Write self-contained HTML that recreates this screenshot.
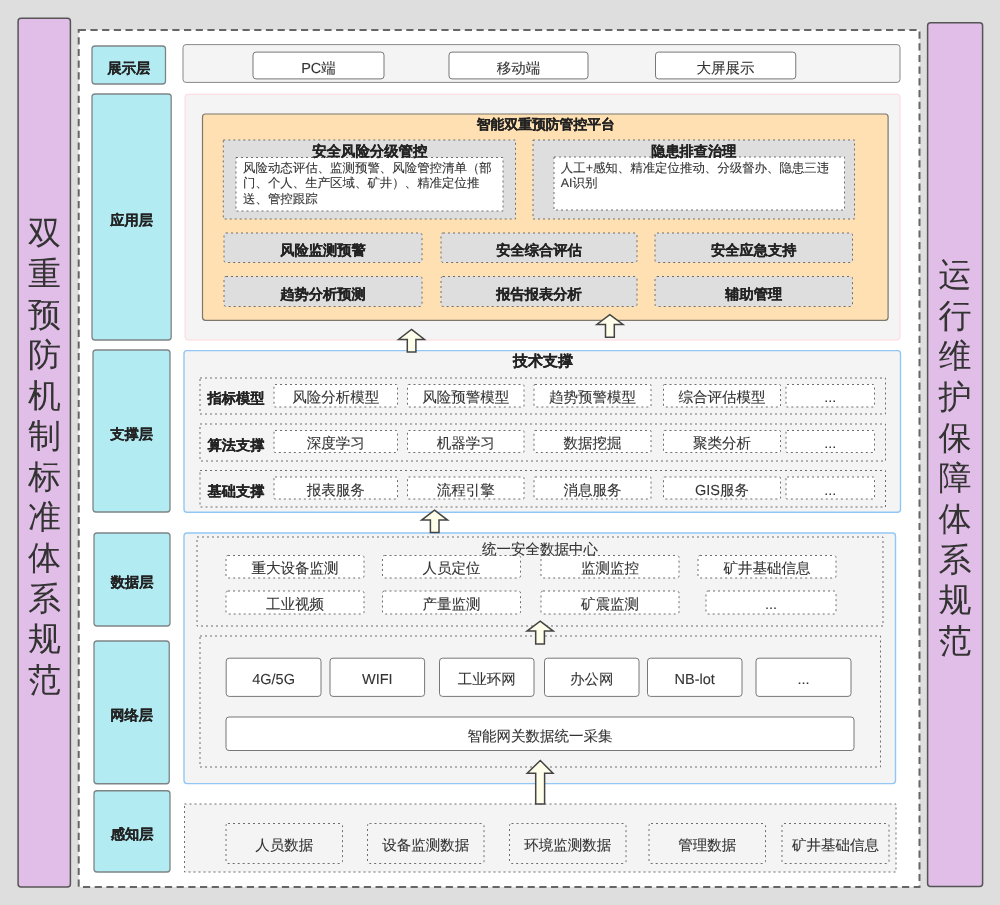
<!DOCTYPE html>
<html><head><meta charset="utf-8"><title>双重预防机制架构</title>
<style>html,body{margin:0;padding:0;background:#dedede;width:1000px;height:905px;overflow:hidden}</style>
</head><body>
<svg width="1000" height="905" viewBox="0 0 1000 905" style="display:block;font-family:'Liberation Sans',sans-serif;will-change:transform" text-rendering="geometricPrecision">
<rect x="18.10" y="18.25" width="52.30" height="868.65" rx="3" fill="#e1bee7" stroke="#555" stroke-width="1.5"/>
<rect x="927.60" y="22.75" width="55.00" height="863.75" rx="3" fill="#e1bee7" stroke="#555" stroke-width="1.5"/>
<rect x="78.70" y="29.90" width="840.80" height="857.10" rx="0" fill="#fff" stroke="#666" stroke-width="2" stroke-dasharray="7.2 4.5"/>
<rect x="92.00" y="46.00" width="73.50" height="38.00" rx="3" fill="#b2ebf2" stroke="#7d8486" stroke-width="1.3"/>
<rect x="92.00" y="94.00" width="79.20" height="246.00" rx="3" fill="#b2ebf2" stroke="#7d8486" stroke-width="1.3"/>
<rect x="93.00" y="350.00" width="77.00" height="162.00" rx="3" fill="#b2ebf2" stroke="#7d8486" stroke-width="1.3"/>
<rect x="94.00" y="533.00" width="76.00" height="93.00" rx="3" fill="#b2ebf2" stroke="#7d8486" stroke-width="1.3"/>
<rect x="94.00" y="641.00" width="75.25" height="142.75" rx="3" fill="#b2ebf2" stroke="#7d8486" stroke-width="1.3"/>
<rect x="94.00" y="790.75" width="76.00" height="81.25" rx="3" fill="#b2ebf2" stroke="#7d8486" stroke-width="1.3"/>
<rect x="183.00" y="44.60" width="717.00" height="37.80" rx="3" fill="#f4f4f4" stroke="#888" stroke-width="1"/>
<rect x="253.00" y="52.10" width="131.00" height="26.80" rx="3" fill="#fff" stroke="#777" stroke-width="1"/>
<rect x="449.00" y="52.10" width="139.00" height="26.80" rx="3" fill="#fff" stroke="#777" stroke-width="1"/>
<rect x="655.50" y="52.10" width="140.25" height="26.80" rx="3" fill="#fff" stroke="#777" stroke-width="1"/>
<rect x="185.00" y="94.20" width="715.00" height="245.80" rx="3" fill="#f4f4f4" stroke="#ffd8dd" stroke-width="1"/>
<rect x="202.50" y="114.00" width="685.60" height="206.30" rx="3" fill="#ffe0b2" stroke="#7d776e" stroke-width="1.2"/>
<rect x="223.30" y="140.00" width="292.20" height="79.00" rx="0" fill="#dedede" stroke="#6e6e6e" stroke-width="1" stroke-dasharray="2 3"/>
<rect x="236.00" y="157.50" width="267.00" height="53.50" rx="0" fill="#fff" stroke="#6e6e6e" stroke-width="1" stroke-dasharray="2 3"/>
<rect x="533.00" y="140.00" width="321.50" height="79.00" rx="0" fill="#dedede" stroke="#6e6e6e" stroke-width="1" stroke-dasharray="2 3"/>
<rect x="554.00" y="157.00" width="290.50" height="53.00" rx="0" fill="#fff" stroke="#6e6e6e" stroke-width="1" stroke-dasharray="2 3"/>
<rect x="224.00" y="233.00" width="198.00" height="29.50" rx="2" fill="#dedede" stroke="#6e6e6e" stroke-width="1" stroke-dasharray="2 3"/>
<rect x="441.00" y="233.00" width="196.00" height="29.50" rx="2" fill="#dedede" stroke="#6e6e6e" stroke-width="1" stroke-dasharray="2 3"/>
<rect x="655.00" y="233.00" width="197.50" height="29.50" rx="2" fill="#dedede" stroke="#6e6e6e" stroke-width="1" stroke-dasharray="2 3"/>
<rect x="224.00" y="276.50" width="198.00" height="30.00" rx="2" fill="#dedede" stroke="#6e6e6e" stroke-width="1" stroke-dasharray="2 3"/>
<rect x="441.00" y="276.50" width="196.00" height="30.00" rx="2" fill="#dedede" stroke="#6e6e6e" stroke-width="1" stroke-dasharray="2 3"/>
<rect x="655.00" y="276.50" width="197.50" height="30.00" rx="2" fill="#dedede" stroke="#6e6e6e" stroke-width="1" stroke-dasharray="2 3"/>
<rect x="184.00" y="350.60" width="716.50" height="161.60" rx="3" fill="#f4f4f4" stroke="#92c7f5" stroke-width="1.4"/>
<rect x="200.00" y="378.00" width="685.50" height="36.00" rx="0" fill="none" stroke="#6e6e6e" stroke-width="1" stroke-dasharray="2 3"/>
<rect x="274.00" y="384.50" width="123.50" height="22.50" rx="1" fill="#fff" stroke="#6e6e6e" stroke-width="1" stroke-dasharray="2 3"/>
<rect x="407.50" y="384.50" width="116.50" height="22.50" rx="1" fill="#fff" stroke="#6e6e6e" stroke-width="1" stroke-dasharray="2 3"/>
<rect x="534.00" y="384.50" width="117.00" height="22.50" rx="1" fill="#fff" stroke="#6e6e6e" stroke-width="1" stroke-dasharray="2 3"/>
<rect x="663.50" y="384.50" width="117.00" height="22.50" rx="1" fill="#fff" stroke="#6e6e6e" stroke-width="1" stroke-dasharray="2 3"/>
<rect x="786.00" y="384.50" width="88.50" height="22.50" rx="1" fill="#fff" stroke="#6e6e6e" stroke-width="1" stroke-dasharray="2 3"/>
<rect x="200.00" y="424.00" width="685.50" height="37.00" rx="0" fill="none" stroke="#6e6e6e" stroke-width="1" stroke-dasharray="2 3"/>
<rect x="274.00" y="430.50" width="123.50" height="22.00" rx="1" fill="#fff" stroke="#6e6e6e" stroke-width="1" stroke-dasharray="2 3"/>
<rect x="407.50" y="430.50" width="116.50" height="22.00" rx="1" fill="#fff" stroke="#6e6e6e" stroke-width="1" stroke-dasharray="2 3"/>
<rect x="534.00" y="430.50" width="117.00" height="22.00" rx="1" fill="#fff" stroke="#6e6e6e" stroke-width="1" stroke-dasharray="2 3"/>
<rect x="663.50" y="430.50" width="117.00" height="22.00" rx="1" fill="#fff" stroke="#6e6e6e" stroke-width="1" stroke-dasharray="2 3"/>
<rect x="786.00" y="430.50" width="88.50" height="22.00" rx="1" fill="#fff" stroke="#6e6e6e" stroke-width="1" stroke-dasharray="2 3"/>
<rect x="200.00" y="470.50" width="685.50" height="36.50" rx="0" fill="none" stroke="#6e6e6e" stroke-width="1" stroke-dasharray="2 3"/>
<rect x="274.00" y="477.00" width="123.50" height="22.00" rx="1" fill="#fff" stroke="#6e6e6e" stroke-width="1" stroke-dasharray="2 3"/>
<rect x="407.50" y="477.00" width="116.50" height="22.00" rx="1" fill="#fff" stroke="#6e6e6e" stroke-width="1" stroke-dasharray="2 3"/>
<rect x="534.00" y="477.00" width="117.00" height="22.00" rx="1" fill="#fff" stroke="#6e6e6e" stroke-width="1" stroke-dasharray="2 3"/>
<rect x="663.50" y="477.00" width="117.00" height="22.00" rx="1" fill="#fff" stroke="#6e6e6e" stroke-width="1" stroke-dasharray="2 3"/>
<rect x="786.00" y="477.00" width="88.50" height="22.00" rx="1" fill="#fff" stroke="#6e6e6e" stroke-width="1" stroke-dasharray="2 3"/>
<rect x="184.00" y="533.00" width="711.50" height="250.60" rx="3" fill="#f4f4f4" stroke="#92c7f5" stroke-width="1.4"/>
<rect x="197.00" y="537.00" width="686.00" height="89.00" rx="0" fill="none" stroke="#6e6e6e" stroke-width="1" stroke-dasharray="2 3"/>
<rect x="226.00" y="555.50" width="138.00" height="22.50" rx="2" fill="#fff" stroke="#6e6e6e" stroke-width="1" stroke-dasharray="2 3"/>
<rect x="382.50" y="555.50" width="138.00" height="22.50" rx="2" fill="#fff" stroke="#6e6e6e" stroke-width="1" stroke-dasharray="2 3"/>
<rect x="541.00" y="555.50" width="138.00" height="22.50" rx="2" fill="#fff" stroke="#6e6e6e" stroke-width="1" stroke-dasharray="2 3"/>
<rect x="698.00" y="555.50" width="138.00" height="22.50" rx="2" fill="#fff" stroke="#6e6e6e" stroke-width="1" stroke-dasharray="2 3"/>
<rect x="226.00" y="591.00" width="138.00" height="23.00" rx="2" fill="#fff" stroke="#6e6e6e" stroke-width="1" stroke-dasharray="2 3"/>
<rect x="382.50" y="591.00" width="138.00" height="23.00" rx="2" fill="#fff" stroke="#6e6e6e" stroke-width="1" stroke-dasharray="2 3"/>
<rect x="541.00" y="591.00" width="138.00" height="23.00" rx="2" fill="#fff" stroke="#6e6e6e" stroke-width="1" stroke-dasharray="2 3"/>
<rect x="706.00" y="591.00" width="130.00" height="23.00" rx="2" fill="#fff" stroke="#6e6e6e" stroke-width="1" stroke-dasharray="2 3"/>
<rect x="200.00" y="636.00" width="680.50" height="131.00" rx="0" fill="none" stroke="#6e6e6e" stroke-width="1" stroke-dasharray="2 3"/>
<rect x="226.20" y="658.20" width="94.80" height="38.20" rx="3" fill="#fff" stroke="#777" stroke-width="1"/>
<rect x="330.00" y="658.20" width="94.60" height="38.20" rx="3" fill="#fff" stroke="#777" stroke-width="1"/>
<rect x="439.50" y="658.20" width="94.50" height="38.20" rx="3" fill="#fff" stroke="#777" stroke-width="1"/>
<rect x="544.50" y="658.20" width="94.50" height="38.20" rx="3" fill="#fff" stroke="#777" stroke-width="1"/>
<rect x="647.50" y="658.20" width="94.50" height="38.20" rx="3" fill="#fff" stroke="#777" stroke-width="1"/>
<rect x="756.00" y="658.20" width="95.00" height="38.20" rx="3" fill="#fff" stroke="#777" stroke-width="1"/>
<rect x="226.00" y="717.00" width="628.00" height="33.50" rx="3" fill="#fff" stroke="#777" stroke-width="1"/>
<rect x="184.50" y="804.00" width="711.50" height="68.00" rx="0" fill="#f4f4f4" stroke="#6e6e6e" stroke-width="1" stroke-dasharray="2 3"/>
<rect x="226.00" y="823.50" width="116.50" height="40.00" rx="2" fill="none" stroke="#6e6e6e" stroke-width="1" stroke-dasharray="2 3"/>
<rect x="367.50" y="823.50" width="116.50" height="40.00" rx="2" fill="none" stroke="#6e6e6e" stroke-width="1" stroke-dasharray="2 3"/>
<rect x="509.50" y="823.50" width="116.50" height="40.00" rx="2" fill="none" stroke="#6e6e6e" stroke-width="1" stroke-dasharray="2 3"/>
<rect x="649.00" y="823.50" width="116.50" height="40.00" rx="2" fill="none" stroke="#6e6e6e" stroke-width="1" stroke-dasharray="2 3"/>
<rect x="782.00" y="823.50" width="107.00" height="40.00" rx="2" fill="none" stroke="#6e6e6e" stroke-width="1" stroke-dasharray="2 3"/>
<polygon points="411.50,329.40 424.48,339.50 415.90,339.50 415.90,352.00 407.30,352.00 407.30,339.50 398.52,339.50" fill="#fefeea" stroke="#444" stroke-width="1.5" stroke-linejoin="miter"/>
<polygon points="609.80,314.60 622.98,324.50 614.30,324.50 614.30,337.20 605.50,337.20 605.50,324.50 596.83,324.50" fill="#fefeea" stroke="#444" stroke-width="1.5" stroke-linejoin="miter"/>
<polygon points="434.50,510.20 447.57,520.10 439.00,520.10 439.00,532.60 430.40,532.60 430.40,520.10 421.62,520.10" fill="#fefeea" stroke="#444" stroke-width="1.5" stroke-linejoin="miter"/>
<polygon points="540.20,621.10 553.27,631.10 544.40,631.10 544.40,644.00 535.70,644.00 535.70,631.10 527.02,631.10" fill="#fefeea" stroke="#444" stroke-width="1.5" stroke-linejoin="miter"/>
<polygon points="540.30,760.50 552.98,773.20 544.60,773.20 544.60,804.00 535.70,804.00 535.70,773.20 527.23,773.20" fill="#fefeea" stroke="#444" stroke-width="1.5" stroke-linejoin="miter"/>
<text x="128.75" y="72.72" font-size="14.25" font-weight="bold" fill="#222" stroke="#222" stroke-width="0.15" text-anchor="middle">展示层</text>
<text x="131.60" y="224.72" font-size="14.25" font-weight="bold" fill="#222" stroke="#222" stroke-width="0.15" text-anchor="middle">应用层</text>
<text x="131.50" y="438.72" font-size="14.25" font-weight="bold" fill="#222" stroke="#222" stroke-width="0.15" text-anchor="middle">支撑层</text>
<text x="132.00" y="587.21" font-size="14.25" font-weight="bold" fill="#222" stroke="#222" stroke-width="0.15" text-anchor="middle">数据层</text>
<text x="131.62" y="720.09" font-size="14.25" font-weight="bold" fill="#222" stroke="#222" stroke-width="0.15" text-anchor="middle">网络层</text>
<text x="132.00" y="839.09" font-size="14.25" font-weight="bold" fill="#222" stroke="#222" stroke-width="0.15" text-anchor="middle">感知层</text>
<text x="318.50" y="72.51" font-size="14.5" fill="#333" stroke="#333" stroke-width="0.1" text-anchor="middle">PC端</text>
<text x="518.50" y="72.51" font-size="14.5" fill="#333" stroke="#333" stroke-width="0.1" text-anchor="middle">移动端</text>
<text x="725.62" y="72.51" font-size="14.5" fill="#333" stroke="#333" stroke-width="0.1" text-anchor="middle">大屏展示</text>
<text x="545.80" y="129.04" font-size="13.8" font-weight="bold" fill="#222" stroke="#222" stroke-width="0.15" text-anchor="middle">智能双重预防管控平台</text>
<text x="369.80" y="156.37" font-size="14.4" font-weight="bold" fill="#222" stroke="#222" stroke-width="0.15" text-anchor="middle">安全风险分级管控</text>
<text x="243.00" y="171.73" font-size="12.45" fill="#333" stroke="#333" stroke-width="0.1" text-anchor="start">风险动态评估、监测预警、风险管控清单（部</text>
<text x="243.00" y="187.28" font-size="12.45" fill="#333" stroke="#333" stroke-width="0.1" text-anchor="start">门、个人、生产区域、矿井）、精准定位推</text>
<text x="243.00" y="202.83" font-size="12.45" fill="#333" stroke="#333" stroke-width="0.1" text-anchor="start">送、管控跟踪</text>
<text x="693.75" y="156.30" font-size="14.2" font-weight="bold" fill="#222" stroke="#222" stroke-width="0.15" text-anchor="middle">隐患排查治理</text>
<text x="560.75" y="171.73" font-size="12.45" fill="#333" stroke="#333" stroke-width="0.1" text-anchor="start">人工+感知、精准定位推动、分级督办、隐患三违</text>
<text x="560.75" y="187.28" font-size="12.45" fill="#333" stroke="#333" stroke-width="0.1" text-anchor="start">AI识别</text>
<text x="323.00" y="255.16" font-size="14.25" font-weight="bold" fill="#222" stroke="#222" stroke-width="0.15" text-anchor="middle">风险监测预警</text>
<text x="539.00" y="255.16" font-size="14.25" font-weight="bold" fill="#222" stroke="#222" stroke-width="0.15" text-anchor="middle">安全综合评估</text>
<text x="753.75" y="255.16" font-size="14.25" font-weight="bold" fill="#222" stroke="#222" stroke-width="0.15" text-anchor="middle">安全应急支持</text>
<text x="323.00" y="298.92" font-size="14.25" font-weight="bold" fill="#222" stroke="#222" stroke-width="0.15" text-anchor="middle">趋势分析预测</text>
<text x="539.00" y="298.92" font-size="14.25" font-weight="bold" fill="#222" stroke="#222" stroke-width="0.15" text-anchor="middle">报告报表分析</text>
<text x="753.75" y="298.92" font-size="14.25" font-weight="bold" fill="#222" stroke="#222" stroke-width="0.15" text-anchor="middle">辅助管理</text>
<text x="543.00" y="366.30" font-size="15" font-weight="bold" fill="#222" stroke="#222" stroke-width="0.15" text-anchor="middle">技术支撑</text>
<text x="207.60" y="403.42" font-size="14.25" font-weight="bold" fill="#222" stroke="#222" stroke-width="0.15" text-anchor="start">指标模型</text>
<text x="335.75" y="402.26" font-size="14.5" fill="#333" stroke="#333" stroke-width="0.1" text-anchor="middle">风险分析模型</text>
<text x="465.75" y="402.26" font-size="14.5" fill="#333" stroke="#333" stroke-width="0.1" text-anchor="middle">风险预警模型</text>
<text x="592.50" y="402.26" font-size="14.5" fill="#333" stroke="#333" stroke-width="0.1" text-anchor="middle">趋势预警模型</text>
<text x="722.00" y="402.26" font-size="14.5" fill="#333" stroke="#333" stroke-width="0.1" text-anchor="middle">综合评估模型</text>
<text x="830.25" y="402.46" font-size="14.5" fill="#333" stroke="#333" stroke-width="0.1" text-anchor="middle">...</text>
<text x="207.60" y="449.92" font-size="14.25" font-weight="bold" fill="#222" stroke="#222" stroke-width="0.15" text-anchor="start">算法支撑</text>
<text x="335.75" y="448.01" font-size="14.5" fill="#333" stroke="#333" stroke-width="0.1" text-anchor="middle">深度学习</text>
<text x="465.75" y="448.01" font-size="14.5" fill="#333" stroke="#333" stroke-width="0.1" text-anchor="middle">机器学习</text>
<text x="592.50" y="448.01" font-size="14.5" fill="#333" stroke="#333" stroke-width="0.1" text-anchor="middle">数据挖掘</text>
<text x="722.00" y="448.01" font-size="14.5" fill="#333" stroke="#333" stroke-width="0.1" text-anchor="middle">聚类分析</text>
<text x="830.25" y="448.21" font-size="14.5" fill="#333" stroke="#333" stroke-width="0.1" text-anchor="middle">...</text>
<text x="207.60" y="496.17" font-size="14.25" font-weight="bold" fill="#222" stroke="#222" stroke-width="0.15" text-anchor="start">基础支撑</text>
<text x="335.75" y="494.51" font-size="14.5" fill="#333" stroke="#333" stroke-width="0.1" text-anchor="middle">报表服务</text>
<text x="465.75" y="494.51" font-size="14.5" fill="#333" stroke="#333" stroke-width="0.1" text-anchor="middle">流程引擎</text>
<text x="592.50" y="494.51" font-size="14.5" fill="#333" stroke="#333" stroke-width="0.1" text-anchor="middle">消息服务</text>
<text x="722.00" y="494.51" font-size="14.5" fill="#333" stroke="#333" stroke-width="0.1" text-anchor="middle">GIS服务</text>
<text x="830.25" y="494.71" font-size="14.5" fill="#333" stroke="#333" stroke-width="0.1" text-anchor="middle">...</text>
<text x="540.00" y="553.51" font-size="14.5" fill="#333" stroke="#333" stroke-width="0.1" text-anchor="middle">统一安全数据中心</text>
<text x="295.00" y="573.26" font-size="14.5" fill="#333" stroke="#333" stroke-width="0.1" text-anchor="middle">重大设备监测</text>
<text x="451.50" y="573.26" font-size="14.5" fill="#333" stroke="#333" stroke-width="0.1" text-anchor="middle">人员定位</text>
<text x="610.00" y="573.26" font-size="14.5" fill="#333" stroke="#333" stroke-width="0.1" text-anchor="middle">监测监控</text>
<text x="767.00" y="573.26" font-size="14.5" fill="#333" stroke="#333" stroke-width="0.1" text-anchor="middle">矿井基础信息</text>
<text x="295.00" y="609.01" font-size="14.5" fill="#333" stroke="#333" stroke-width="0.1" text-anchor="middle">工业视频</text>
<text x="451.50" y="609.01" font-size="14.5" fill="#333" stroke="#333" stroke-width="0.1" text-anchor="middle">产量监测</text>
<text x="610.00" y="609.01" font-size="14.5" fill="#333" stroke="#333" stroke-width="0.1" text-anchor="middle">矿震监测</text>
<text x="771.00" y="609.21" font-size="14.5" fill="#333" stroke="#333" stroke-width="0.1" text-anchor="middle">...</text>
<text x="273.60" y="683.71" font-size="14.5" fill="#333" stroke="#333" stroke-width="0.1" text-anchor="middle">4G/5G</text>
<text x="377.30" y="683.71" font-size="14.5" fill="#333" stroke="#333" stroke-width="0.1" text-anchor="middle">WIFI</text>
<text x="486.75" y="683.51" font-size="14.5" fill="#333" stroke="#333" stroke-width="0.1" text-anchor="middle">工业环网</text>
<text x="591.75" y="683.51" font-size="14.5" fill="#333" stroke="#333" stroke-width="0.1" text-anchor="middle">办公网</text>
<text x="694.75" y="683.71" font-size="14.5" fill="#333" stroke="#333" stroke-width="0.1" text-anchor="middle">NB-lot</text>
<text x="803.50" y="683.71" font-size="14.5" fill="#333" stroke="#333" stroke-width="0.1" text-anchor="middle">...</text>
<text x="540.00" y="740.51" font-size="14.5" fill="#333" stroke="#333" stroke-width="0.1" text-anchor="middle">智能网关数据统一采集</text>
<text x="284.25" y="850.01" font-size="14.5" fill="#333" stroke="#333" stroke-width="0.1" text-anchor="middle">人员数据</text>
<text x="425.75" y="850.01" font-size="14.5" fill="#333" stroke="#333" stroke-width="0.1" text-anchor="middle">设备监测数据</text>
<text x="567.75" y="850.01" font-size="14.5" fill="#333" stroke="#333" stroke-width="0.1" text-anchor="middle">环境监测数据</text>
<text x="707.25" y="850.01" font-size="14.5" fill="#333" stroke="#333" stroke-width="0.1" text-anchor="middle">管理数据</text>
<text x="835.50" y="850.01" font-size="14.5" fill="#333" stroke="#333" stroke-width="0.1" text-anchor="middle">矿井基础信息</text>
<text x="44.60" y="244.34" font-size="33" fill="#333" text-anchor="middle">双</text>
<text x="44.60" y="284.92" font-size="33" fill="#333" text-anchor="middle">重</text>
<text x="44.60" y="325.50" font-size="33" fill="#333" text-anchor="middle">预</text>
<text x="44.60" y="366.08" font-size="33" fill="#333" text-anchor="middle">防</text>
<text x="44.60" y="406.66" font-size="33" fill="#333" text-anchor="middle">机</text>
<text x="44.60" y="447.24" font-size="33" fill="#333" text-anchor="middle">制</text>
<text x="44.60" y="487.82" font-size="33" fill="#333" text-anchor="middle">标</text>
<text x="44.60" y="528.40" font-size="33" fill="#333" text-anchor="middle">准</text>
<text x="44.60" y="568.98" font-size="33" fill="#333" text-anchor="middle">体</text>
<text x="44.60" y="609.56" font-size="33" fill="#333" text-anchor="middle">系</text>
<text x="44.60" y="650.14" font-size="33" fill="#333" text-anchor="middle">规</text>
<text x="44.60" y="690.72" font-size="33" fill="#333" text-anchor="middle">范</text>
<text x="955.10" y="285.94" font-size="33" fill="#333" text-anchor="middle">运</text>
<text x="955.10" y="326.61" font-size="33" fill="#333" text-anchor="middle">行</text>
<text x="955.10" y="367.28" font-size="33" fill="#333" text-anchor="middle">维</text>
<text x="955.10" y="407.95" font-size="33" fill="#333" text-anchor="middle">护</text>
<text x="955.10" y="448.62" font-size="33" fill="#333" text-anchor="middle">保</text>
<text x="955.10" y="489.29" font-size="33" fill="#333" text-anchor="middle">障</text>
<text x="955.10" y="529.96" font-size="33" fill="#333" text-anchor="middle">体</text>
<text x="955.10" y="570.63" font-size="33" fill="#333" text-anchor="middle">系</text>
<text x="955.10" y="611.30" font-size="33" fill="#333" text-anchor="middle">规</text>
<text x="955.10" y="651.97" font-size="33" fill="#333" text-anchor="middle">范</text>
</svg>
</body></html>
